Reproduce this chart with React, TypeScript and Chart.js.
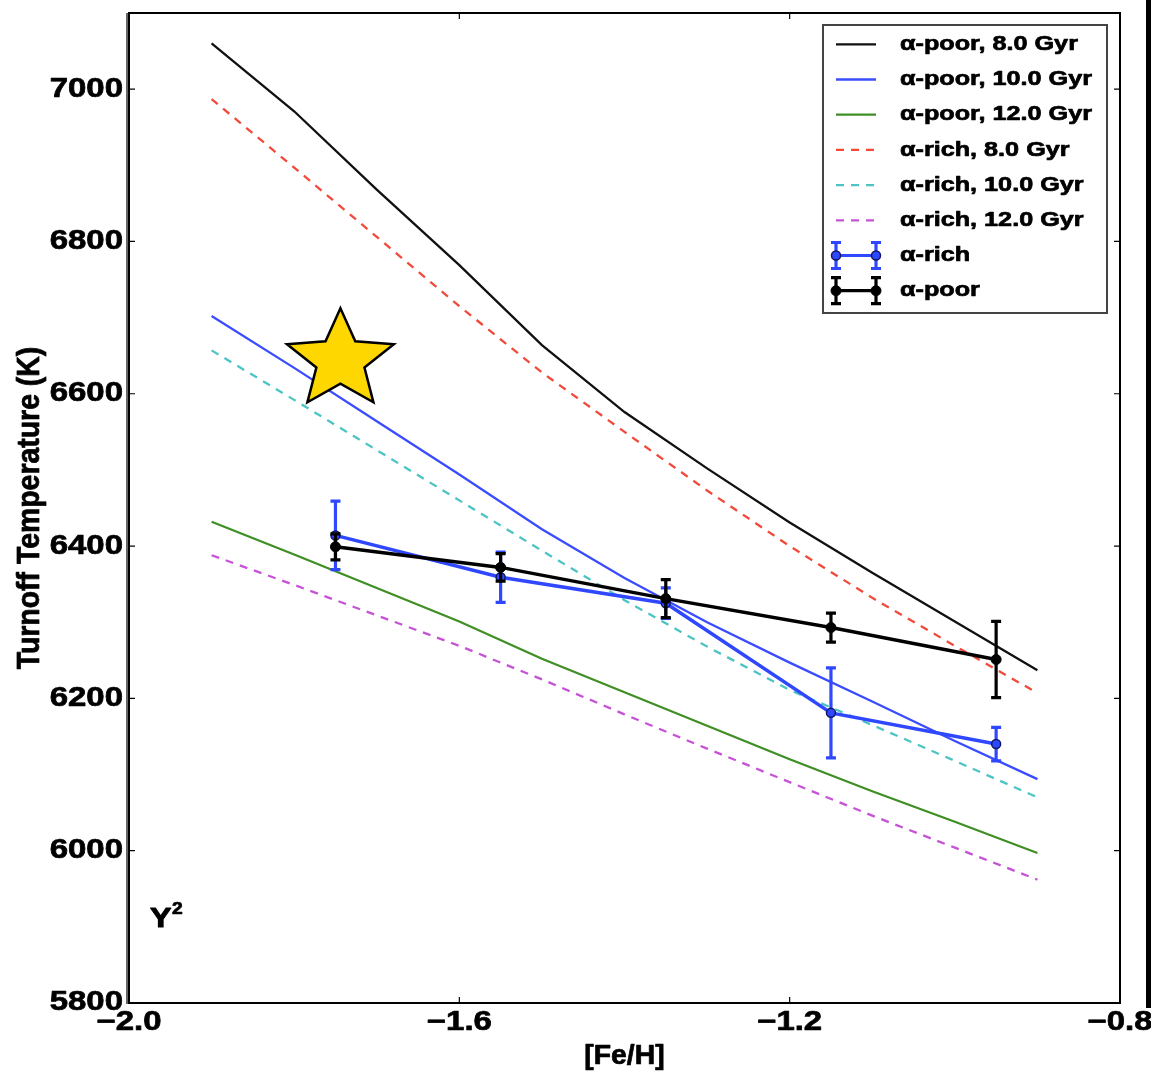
import React, { useEffect, useRef } from "react";
import { Chart, registerables } from "chart.js";

Chart.register(...registerables);

// ---- data ----
const feh = [-1.9, -1.8, -1.7, -1.6, -1.5, -1.4, -1.3, -1.2, -1.1, -1.0, -0.9];
const poor8 = [7060, 6971, 6868, 6769, 6664, 6576, 6502, 6431, 6365, 6301, 6237];
const poor10 = [6702, 6634, 6564, 6494, 6422, 6358, 6300, 6247, 6196, 6144, 6094];
const poor12 = [6432, 6389, 6345, 6301, 6252, 6208, 6164, 6120, 6078, 6038, 5997];
const rich8 = [6987, 6897, 6806, 6715, 6628, 6550, 6473, 6400, 6332, 6269, 6207];
const rich10 = [6657, 6592, 6526, 6460, 6394, 6329, 6268, 6211, 6165, 6118, 6070];
const rich12 = [6388, 6349, 6309, 6269, 6225, 6179, 6134, 6090, 6046, 6004, 5962];

const obsFeh = [-1.75, -1.55, -1.35, -1.15, -0.95];
const richT = [6414, 6359, 6325, 6181, 6140];
const richErr = [45, 33, 20, 59, 22];
const poorT = [6399, 6372, 6331, 6293, 6251];
const poorErr = [17, 18, 25, 19, 50];

const starFeh = -1.744;
const starT = 6644;

const xTicks = [-2.0, -1.6, -1.2, -0.8];
const yTicks = [5800, 6000, 6200, 6400, 6600, 6800, 7000];
const xLabel = "[Fe/H]";
const yLabel = "Turnoff Temperature (K)";

const BLUE = "#2f48ff";
const FONT = '"Liberation Sans", Arial, Helvetica, sans-serif';

type TextOpts = {
  size: number;
  sx?: number;
  sy?: number;
  align?: CanvasTextAlign;
  baseline?: CanvasTextBaseline;
  rotate?: number;
  color?: string;
  heavy?: number;
};

function drawText(ctx: CanvasRenderingContext2D, text: string, x: number, y: number, o: TextOpts) {
  ctx.save();
  ctx.translate(x, y);
  if (o.rotate) ctx.rotate(o.rotate);
  ctx.scale(o.sx ?? 1, o.sy ?? 1);
  ctx.font = `bold ${o.size}px ${FONT}`;
  ctx.fillStyle = o.color ?? "#000";
  ctx.strokeStyle = o.color ?? "#000";
  ctx.lineWidth = o.heavy ?? 0.7;
  ctx.lineJoin = "round";
  ctx.textAlign = o.align ?? "left";
  ctx.textBaseline = o.baseline ?? "middle";
  ctx.fillText(text, 0, 0);
  ctx.strokeText(text, 0, 0);
  ctx.restore();
}

const fmtX = (v: number) => (v < 0 ? "\u2212" : "") + Math.abs(v).toFixed(1);

const model = (label: string, ys: number[], color: string, dash: number[]) => ({
  label,
  data: feh.map((x, i) => ({ x, y: ys[i] })),
  borderColor: color,
  backgroundColor: color,
  borderWidth: 2.3,
  borderDash: dash,
  pointRadius: 0,
  pointHoverRadius: 0,
  fill: false,
  tension: 0,
  order: 5,
  kind: "model",
});

const errorBarPlugin = {
  id: "errorBars",
  beforeDatasetDraw(chart: any, args: any) {
    const ds = chart.data.datasets[args.index];
    if (!ds.errors) return;
    const ctx = chart.ctx as CanvasRenderingContext2D;
    const ys = chart.scales.y;
    ctx.save();
    ctx.strokeStyle = ds.borderColor;
    ctx.lineWidth = 3.2;
    args.meta.data.forEach((pt: any, i: number) => {
      const v = ds.data[i].y;
      const e = ds.errors[i];
      const x = pt.x;
      const y1 = ys.getPixelForValue(v + e);
      const y2 = ys.getPixelForValue(v - e);
      ctx.beginPath();
      ctx.moveTo(x, y1);
      ctx.lineTo(x, y2);
      ctx.moveTo(x - 5, y1);
      ctx.lineTo(x + 5, y1);
      ctx.moveTo(x - 5, y2);
      ctx.lineTo(x + 5, y2);
      ctx.stroke();
    });
    ctx.restore();
  },
};

const decorPlugin = {
  id: "decor",
  afterDatasetsDraw(chart: any) {
    const ctx = chart.ctx as CanvasRenderingContext2D;
    const { left, right, top, bottom } = chart.chartArea;
    const xs = chart.scales.x;
    const ys = chart.scales.y;

    // star
    const cx = xs.getPixelForValue(starFeh);
    const cy = ys.getPixelForValue(starT);
    const R = 52;
    const r = 0.45 * R;
    const stretch = 1.08;
    ctx.save();
    ctx.beginPath();
    for (let k = 0; k < 10; k++) {
      const ang = -Math.PI / 2 + (k * Math.PI) / 5;
      const rad = k % 2 === 0 ? R : r;
      const px = cx + Math.cos(ang) * rad * stretch;
      const py = cy + Math.sin(ang) * rad;
      if (k === 0) ctx.moveTo(px, py);
      else ctx.lineTo(px, py);
    }
    ctx.closePath();
    ctx.fillStyle = "#ffd700";
    ctx.fill();
    ctx.lineWidth = 2.5;
    ctx.lineJoin = "miter";
    ctx.strokeStyle = "#000";
    ctx.stroke();
    ctx.restore();

    // frame
    ctx.save();
    ctx.strokeStyle = "#000";
    ctx.lineWidth = 2;
    ctx.strokeRect(left, top, right - left, bottom - top);
    ctx.strokeStyle = "#666";
    ctx.lineWidth = 2;
    ctx.beginPath();
    ctx.moveTo(left - 2, top);
    ctx.lineTo(left - 2, bottom + 1);
    ctx.stroke();
    ctx.strokeStyle = "#000";
    ctx.lineWidth = 1.2;
    ctx.beginPath();
    xTicks.forEach((v) => {
      const x = xs.getPixelForValue(v);
      ctx.moveTo(x, bottom);
      ctx.lineTo(x, bottom - 6);
      ctx.moveTo(x, top);
      ctx.lineTo(x, top + 6);
    });
    yTicks.forEach((v) => {
      const y = ys.getPixelForValue(v);
      ctx.moveTo(left, y);
      ctx.lineTo(left + 6, y);
      ctx.moveTo(right, y);
      ctx.lineTo(right - 6, y);
    });
    ctx.stroke();
    ctx.restore();

    // tick labels
    yTicks.forEach((v) => {
      drawText(ctx, String(v), left - 6, ys.getPixelForValue(v), {
        size: 27,
        sx: 1.22,
        align: "right",
      });
    });
    xTicks.forEach((v) => {
      drawText(ctx, fmtX(v), xs.getPixelForValue(v), bottom + 20, {
        size: 27,
        sx: 1.22,
        align: "center",
      });
    });

    // axis titles
    drawText(ctx, xLabel, (left + right) / 2, bottom + 53, { size: 27, sx: 1.05, sy: 1.05, align: "center" });
    drawText(ctx, yLabel, 31, (top + bottom) / 2, {
      size: 29,
      sx: 0.98,
      sy: 1.05,
      align: "center",
      rotate: -Math.PI / 2,
    });

    // Y^2 annotation
    drawText(ctx, "Y", left + 21, bottom - 76, { size: 28, sx: 1.15, baseline: "alphabetic", heavy: 1 });
    drawText(ctx, "2", left + 43, bottom - 89, { size: 16, sx: 1.2, baseline: "alphabetic" });

    // legend
    const bx = right - 297;
    const by = top + 12;
    const bw = 284;
    const bh = 288;
    ctx.save();
    ctx.fillStyle = "#fff";
    ctx.fillRect(bx, by, bw, bh);
    ctx.strokeStyle = "#444";
    ctx.lineWidth = 2;
    ctx.strokeRect(bx, by, bw, bh);
    ctx.restore();

    const order = [2, 3, 4, 5, 6, 7, 1, 0];
    order.forEach((di, row) => {
      const ds = chart.data.datasets[di];
      const y = by + 19.3 + row * 35.2;
      const x0 = bx + 13;
      const x1 = bx + 53;
      ctx.save();
      ctx.strokeStyle = ds.borderColor;
      if (ds.kind === "model") {
        ctx.lineWidth = 2.3;
        ctx.setLineDash(ds.borderDash || []);
        ctx.beginPath();
        ctx.moveTo(x0, y);
        ctx.lineTo(x1, y);
        ctx.stroke();
      } else {
        ctx.lineWidth = 3.2;
        ctx.beginPath();
        ctx.moveTo(x0, y);
        ctx.lineTo(x1, y);
        [x0, x1].forEach((xx) => {
          ctx.moveTo(xx, y - 13);
          ctx.lineTo(xx, y + 13);
          ctx.moveTo(xx - 5, y - 13);
          ctx.lineTo(xx + 5, y - 13);
          ctx.moveTo(xx - 5, y + 13);
          ctx.lineTo(xx + 5, y + 13);
        });
        ctx.stroke();
        [x0, x1].forEach((xx) => {
          ctx.beginPath();
          ctx.arc(xx, y, ds.pointRadius, 0, Math.PI * 2);
          ctx.fillStyle = ds.pointBackgroundColor;
          ctx.fill();
          ctx.lineWidth = ds.pointBorderWidth;
          ctx.strokeStyle = ds.pointBorderColor;
          ctx.stroke();
        });
      }
      ctx.restore();
      drawText(ctx, ds.label, bx + 77, y, { size: 21, sx: 1.2 });
    });
  },
  afterDraw(chart: any) {
    const ctx = chart.ctx as CanvasRenderingContext2D;
    ctx.save();
    ctx.fillStyle = "#000";
    ctx.fillRect(1146, 0, 5, 1008);
    ctx.restore();
  },
};

export default function App() {
  const ref = useRef<HTMLCanvasElement | null>(null);

  useEffect(() => {
    if (!ref.current) return;
    const datasets: any[] = [
      {
        label: "α-poor",
        data: obsFeh.map((x, i) => ({ x, y: poorT[i] })),
        errors: poorErr,
        borderColor: "#000",
        backgroundColor: "#000",
        borderWidth: 3.5,
        pointRadius: 5,
        pointBackgroundColor: "#000",
        pointBorderColor: "#000",
        pointBorderWidth: 1,
        tension: 0,
        fill: false,
        order: 0,
        kind: "data",
      },
      {
        label: "α-rich",
        data: obsFeh.map((x, i) => ({ x, y: richT[i] })),
        errors: richErr,
        borderColor: BLUE,
        backgroundColor: BLUE,
        borderWidth: 3.5,
        pointRadius: 4.5,
        pointBackgroundColor: BLUE,
        pointBorderColor: "#101860",
        pointBorderWidth: 1.5,
        tension: 0,
        fill: false,
        order: 1,
        kind: "data",
      },
      model("α-poor, 8.0 Gyr", poor8, "#111111", []),
      model("α-poor, 10.0 Gyr", poor10, "#3a4cff", []),
      model("α-poor, 12.0 Gyr", poor12, "#3f8f25", []),
      model("α-rich, 8.0 Gyr", rich8, "#f04a3a", [8, 7]),
      model("α-rich, 10.0 Gyr", rich10, "#4cc4c4", [8, 7]),
      model("α-rich, 12.0 Gyr", rich12, "#c653d6", [8, 7]),
    ];

    const chart = new Chart(ref.current, {
      type: "line",
      data: { datasets },
      options: {
        responsive: false,
        animation: false,
        events: [],
        layout: { padding: { top: 13, right: 31, left: 0, bottom: 0 } },
        plugins: {
          legend: { display: false },
          tooltip: { enabled: false },
        },
        scales: {
          x: {
            type: "linear",
            min: -2.0,
            max: -0.8,
            grid: { display: false },
            border: { display: false },
            ticks: { display: false, stepSize: 0.4 },
            afterFit: (s: any) => {
              s.height = 69;
            },
          },
          y: {
            type: "linear",
            min: 5800,
            max: 7100,
            grid: { display: false },
            border: { display: false },
            ticks: { display: false, stepSize: 200 },
            afterFit: (s: any) => {
              s.width = 129;
            },
          },
        },
      } as any,
      plugins: [errorBarPlugin, decorPlugin],
    });
    return () => chart.destroy();
  }, []);

  return (
    <canvas
      ref={ref}
      width={1151}
      height={1072}
      style={{ position: "absolute", left: 0, top: 0, display: "block", background: "#fff" }}
    />
  );
}
